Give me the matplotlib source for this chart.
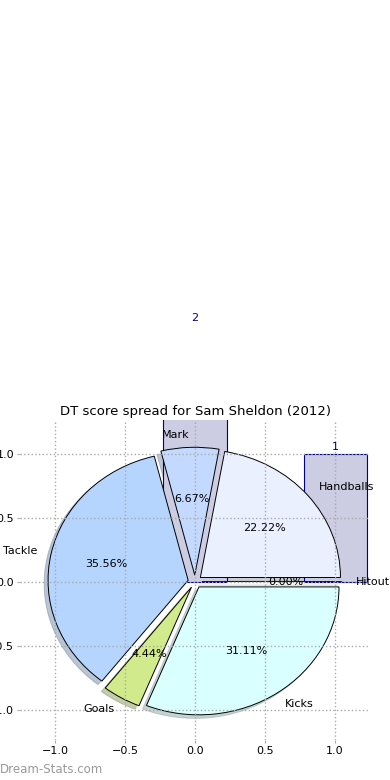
import numpy as np
import matplotlib.pyplot as plt

# pie data (DT points by stat type)
labels = ["Handballs", "Mark", "Tackle", "Goals", "Kicks", "Hitout"]
points = [10, 3, 16, 2, 14, 0]
colors = ["#EBF0FF", "#C4D9FF", "#B5D5FF", "#D0EA8C", "#DAFFFF", "#FFFFFF"]

# leftover bars drawn on the same axes
bar_x = [0, 1]
bar_h = [2, 1]

fig = plt.figure(figsize=(3.9, 7.8), dpi=100)
ax = fig.add_axes([0.051, 0.051, 0.898, 0.41])

bars = ax.bar(bar_x, bar_h, width=0.45, align="center",
              color="#CCCCE3", edgecolor="#000080", linewidth=0.8)
for x, h in zip(bar_x, bar_h):
    ax.text(x, h * 1.01, "%d" % h, ha="center", va="bottom",
            color="#000080", fontsize=8)

explode = [0.05] * len(points)
wedges, texts, autotexts = ax.pie(
    points, labels=labels, colors=colors, explode=explode,
    autopct="%1.2f%%", shadow={"ox": -0.02, "oy": -0.02, "shade": 0.35},
    startangle=0,
    wedgeprops={"linewidth": 0.7, "edgecolor": "black"},
    textprops={"fontsize": 8}, frame=True,
)

ax.set_aspect("auto")
ax.set_xlim(-1.25, 1.25)
ax.set_ylim(-1.24, 1.26)
ax.set_xticks([-1.0, -0.5, 0.0, 0.5, 1.0])
ax.set_yticks([-1.0, -0.5, 0.0, 0.5, 1.0])
ax.tick_params(labelsize=8, color="#AAAAAA", length=2, pad=2)
ax.grid(True, linestyle=":", color="#AAAAAA", linewidth=1)
for s in ax.spines.values():
    s.set_visible(False)

ax.set_title("DT score spread for Sam Sheldon (2012)", fontsize=9.5, pad=4)

fig.text(0.0, 0.005, "Dream-Stats.com", fontsize=8.5, color="#999999",
         ha="left", va="bottom")

fig.savefig("out.png", dpi=100)
